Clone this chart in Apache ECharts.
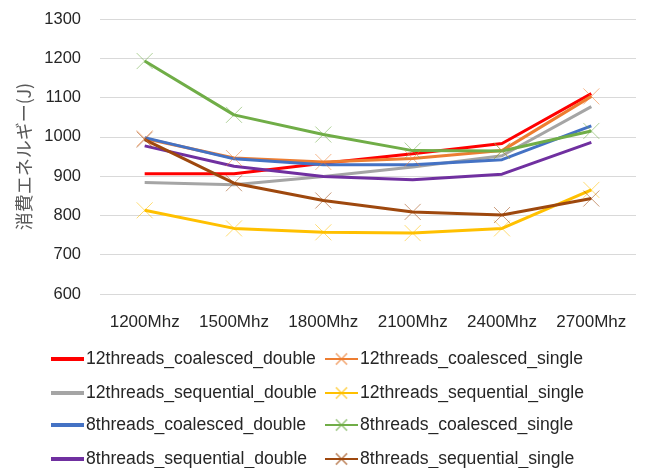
<!DOCTYPE html>
<html>
<head>
<meta charset="utf-8">
<script src="https://cdn.jsdelivr.net/npm/echarts@6/dist/echarts.min.js"></script>
<style>
  html, body { margin: 0; padding: 0; background: #fff; }
  #chart { width: 645px; height: 468px; }
</style>
</head>
<body>
<div id="chart"></div>
<script>
// Clock frequencies on the x axis
const categories = ['1200Mhz', '1500Mhz', '1800Mhz', '2100Mhz', '2400Mhz', '2700Mhz'];

// Energy consumption (J) per configuration
const t12CoalescedDouble = [906, 906, 933, 957, 983, 1110];
const t12CoalescedSingle = [996, 946, 936, 945, 965, 1103];
const t12SequentialDouble = [884, 878, 899, 923, 952, 1077];
const t12SequentialSingle = [813, 767, 757, 755, 767, 865];
const t8CoalescedDouble = [998, 944, 929, 929, 942, 1028];
const t8CoalescedSingle = [1193, 1056, 1006, 965, 964, 1015];
const t8SequentialDouble = [977, 925, 899, 891, 905, 986];
const t8SequentialSingle = [993, 882, 838, 809, 801, 843];

// Y axis ticks
const yMin = 600, yMax = 1300, yStep = 100;

const seriesDefs = [
  { name: '12threads_coalesced_double', data: t12CoalescedDouble, color: '#FF0000', cross: false },
  { name: '12threads_coalesced_single', data: t12CoalescedSingle, color: '#ED7D31', cross: true },
  { name: '12threads_sequential_double', data: t12SequentialDouble, color: '#A5A5A5', cross: false },
  { name: '12threads_sequential_single', data: t12SequentialSingle, color: '#FFC000', cross: true },
  { name: '8threads_coalesced_double', data: t8CoalescedDouble, color: '#4472C4', cross: false },
  { name: '8threads_coalesced_single', data: t8CoalescedSingle, color: '#70AD47', cross: true },
  { name: '8threads_sequential_double', data: t8SequentialDouble, color: '#7030A0', cross: false },
  { name: '8threads_sequential_single', data: t8SequentialSingle, color: '#9E480E', cross: true }
];

const crossPath = 'path://M0,0L10,10M10,0L0,10';
const font = 'Liberation Sans, Arial, sans-serif';

const series = seriesDefs.map(d => ({
  name: d.name,
  type: 'line',
  data: d.data,
  symbol: d.cross ? crossPath : 'none',
  symbolSize: 16,
  showSymbol: d.cross,
  lineStyle: { color: d.color, width: 3 },
  itemStyle: { color: 'none', borderColor: d.color, borderWidth: 1, opacity: 0.55 },
  emphasis: { disabled: true },
  animation: false
}));

// One legend entry per component: two columns, four rows
const rowTops = [350, 384, 416, 450];
const legends = seriesDefs.map((d, i) => {
  const lg = {
    left: i % 2 === 0 ? 51 : 324,
    top: rowTops[Math.floor(i / 2)],
    padding: 0,
    itemWidth: 33,
    itemHeight: 14,
    textStyle: { fontFamily: font, fontSize: 17.6, color: '#262626', padding: [0, 0, 0, -3] },
    selectedMode: false,
    data: [d.name]
  };
  if (!d.cross) {
    lg.icon = 'path://M0,0L33,0L33,4L0,4Z';
    lg.itemHeight = 4;
    lg.itemStyle = { color: d.color, borderWidth: 0, opacity: 1 };
  }
  return lg;
});

const chart = echarts.init(document.getElementById('chart'), null, { renderer: 'canvas' });
chart.setOption({
  backgroundColor: '#ffffff',
  animation: false,
  grid: { left: 100, right: 9, top: 19, bottom: 174 },
  xAxis: {
    type: 'category',
    data: categories,
    boundaryGap: true,
    axisLine: { show: false },
    axisTick: { show: false },
    axisLabel: { color: '#262626', fontSize: 17, margin: 20, fontFamily: font, interval: 0 }
  },
  yAxis: {
    type: 'value',
    min: yMin,
    max: yMax,
    interval: yStep,
    name: '消費エネルギー(J)',
    nameLocation: 'middle',
    nameGap: 67,
    nameRotate: 90,
    nameTextStyle: { color: '#595959', fontSize: 18, fontFamily: 'Noto Sans CJK JP, sans-serif' },
    axisLine: { show: false },
    axisTick: { show: false },
    splitLine: { lineStyle: { color: '#d9d9d9', width: 1 } },
    axisLabel: { color: '#262626', fontSize: 16.5, margin: 19, fontFamily: font, formatter: v => String(v) }
  },
  legend: legends,
  series: series
});
</script>
</body>
</html>
